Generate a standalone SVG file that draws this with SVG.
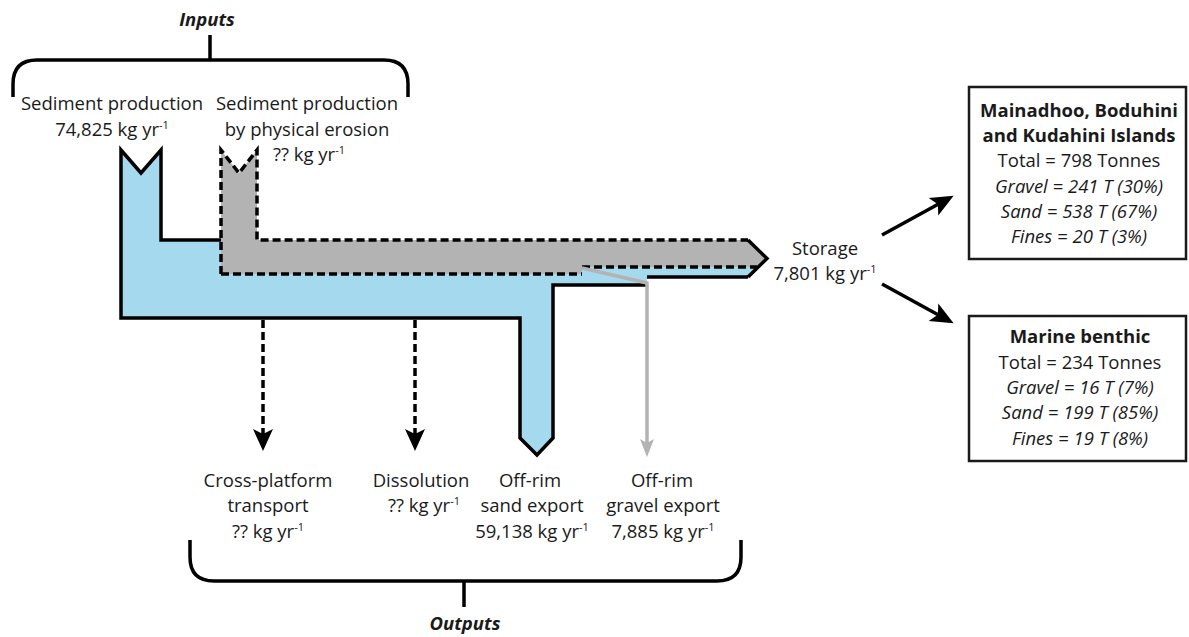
<svg xmlns="http://www.w3.org/2000/svg" width="1189" height="637" viewBox="0 0 1189 637">
  <style>
    .t { font-family: "Open Sans", "Noto Sans", "Liberation Sans", sans-serif; font-size: 18.5px; fill: #1a1a1a; text-anchor: middle; }
    .b { font-weight: bold; }
    .i { font-style: italic; }
    .bi { font-weight: bold; font-style: italic; }
    .sup { font-size: 11px; }
    .brace { fill: none; stroke: #000; stroke-width: 3.5; }
    .edge { fill: none; stroke: #000; stroke-width: 3.5; stroke-linejoin: miter; }
    .dash { fill: none; stroke: #000; stroke-width: 3.5; stroke-dasharray: 8 4; }
    .box { fill: #fff; stroke: #1a1a1a; stroke-width: 2.5; }
  </style>
  <defs>
    <marker id="ahBlack" markerWidth="24" markerHeight="24" viewBox="-12 -12 24 24" refX="0" refY="0" orient="auto" markerUnits="userSpaceOnUse">
      <path d="M-11,-10 L11,0 L-11,10 L-6,0 Z" fill="#000"/>
    </marker>
    <marker id="ahDrop" markerWidth="28" markerHeight="28" viewBox="-14 -14 28 28" refX="0" refY="0" orient="auto" markerUnits="userSpaceOnUse">
      <path d="M-12,-10 L11,0 L-12,10 L-7,0 Z" fill="#000"/>
    </marker>
    <marker id="ahGrey" markerWidth="20" markerHeight="20" viewBox="-10 -10 20 20" refX="0" refY="0" orient="auto" markerUnits="userSpaceOnUse">
      <path d="M-9,-7 L9,0 L-9,7 L-5,0 Z" fill="#b3b3b3"/>
    </marker>
  </defs>

  <!-- Inputs brace -->
  <g id="inputs">
    <text class="t bi" x="207" y="26">Inputs</text>
    <path class="brace" d="M210,35 L210,60 M13,97 L13,84 Q13,60 37,60 L384,60 Q408,60 408,84 L408,97"/>
  </g>

  <!-- Sankey flow body -->
  <g id="flow">
    <path d="M121,150 L141,173 L161,150 L161,240 L748,240 L767,258.5 L748,277 L647,277 L647,285 L553,285 L553,438 L537,455 L520,438 L520,318 L121,318 Z" fill="#a5d9ee"/>
    <path class="edge" d="M221,240 L161,240 L161,150 L141,173 L121,150 L121,318 L520,318 L520,438 L537,455 L553,438 L553,285 L646,285"/>
    <path class="edge" d="M647,277 L748,277"/>
    <path d="M221,150 L239,173 L257,150 L257,240 L748,240 L767,258.5 L758,267 L582,267 L582,274 L221,274 Z" fill="#b3b3b3"/>
    <path class="dash" d="M221,274 L221,150 L239,173 L257,150 L257,240 L748,240"/>
    <path class="dash" d="M221,274 L582,274 M582,267 L757,267"/>
    <path class="edge" d="M748,240 L767,258.5 L748,277"/>
  </g>

  <!-- Output flows -->
  <g id="connectors">
    <path class="dash" d="M263,320 L263,440" marker-end="url(#ahBlack)"/>
    <path class="dash" d="M415,320 L415,440" marker-end="url(#ahBlack)"/>
    <path d="M582,268 L647,283 L647,448" fill="none" stroke="#b3b3b3" stroke-width="3.5" marker-end="url(#ahGrey)"/>
    <path d="M882,235 L944,201" fill="none" stroke="#000" stroke-width="3.5" marker-end="url(#ahDrop)"/>
    <path d="M882,284 L944,318" fill="none" stroke="#000" stroke-width="3.5" marker-end="url(#ahDrop)"/>
  </g>

  <g id="input-production">
    <text class="t" x="112" y="110">Sediment production</text>
    <text class="t" x="112" y="136">74,825 kg yr<tspan class="sup" dy="-7">-1</tspan></text>
  </g>
  <g id="input-erosion">
    <text class="t" x="307" y="110">Sediment production</text>
    <text class="t" x="307" y="136">by physical erosion</text>
    <text class="t" x="309" y="161">?? kg yr<tspan class="sup" dy="-7">-1</tspan></text>
  </g>

  <g id="storage">
    <text class="t" x="825" y="255">Storage</text>
    <text class="t" x="825" y="280">7,801 kg yr<tspan class="sup" dy="-7">-1</tspan></text>
  </g>

  <g id="out-cross">
    <text class="t" x="268" y="487">Cross-platform</text>
    <text class="t" x="268" y="512">transport</text>
    <text class="t" x="268" y="538">?? kg yr<tspan class="sup" dy="-7">-1</tspan></text>
  </g>
  <g id="out-dissolution">
    <text class="t" x="421" y="487">Dissolution</text>
    <text class="t" x="424" y="512">?? kg yr<tspan class="sup" dy="-7">-1</tspan></text>
  </g>
  <g id="out-sand">
    <text class="t" x="530" y="487">Off-rim</text>
    <text class="t" x="532" y="512">sand export</text>
    <text class="t" x="532" y="538">59,138 kg yr<tspan class="sup" dy="-7">-1</tspan></text>
  </g>
  <g id="out-gravel">
    <text class="t" x="662" y="487">Off-rim</text>
    <text class="t" x="663" y="512">gravel export</text>
    <text class="t" x="663" y="538">7,885 kg yr<tspan class="sup" dy="-7">-1</tspan></text>
  </g>

  <!-- Outputs brace -->
  <g id="outputs">
    <path class="brace" d="M190,540 L190,557 Q190,581 214,581 L717,581 Q741,581 741,557 L741,540 M464,581 L464,607"/>
    <text class="t bi" x="465" y="630">Outputs</text>
  </g>

  <g id="islands">
    <rect class="box" x="969" y="87" width="217" height="172"/>
    <text class="t b" x="1079" y="117">Mainadhoo, Boduhini</text>
    <text class="t b" x="1079" y="142">and Kudahini Islands</text>
    <text class="t" x="1079" y="167">Total = 798 Tonnes</text>
    <text class="t i" x="1079" y="193">Gravel = 241 T (30%)</text>
    <text class="t i" x="1079" y="218">Sand = 538 T (67%)</text>
    <text class="t i" x="1079" y="243">Fines = 20 T (3%)</text>
  </g>

  <g id="benthic">
    <rect class="box" x="969" y="316" width="217" height="145"/>
    <text class="t b" x="1080" y="343">Marine benthic</text>
    <text class="t" x="1080" y="369">Total = 234 Tonnes</text>
    <text class="t i" x="1080" y="394">Gravel = 16 T (7%)</text>
    <text class="t i" x="1080" y="419">Sand = 199 T (85%)</text>
    <text class="t i" x="1080" y="445">Fines = 19 T (8%)</text>
  </g>
</svg>
